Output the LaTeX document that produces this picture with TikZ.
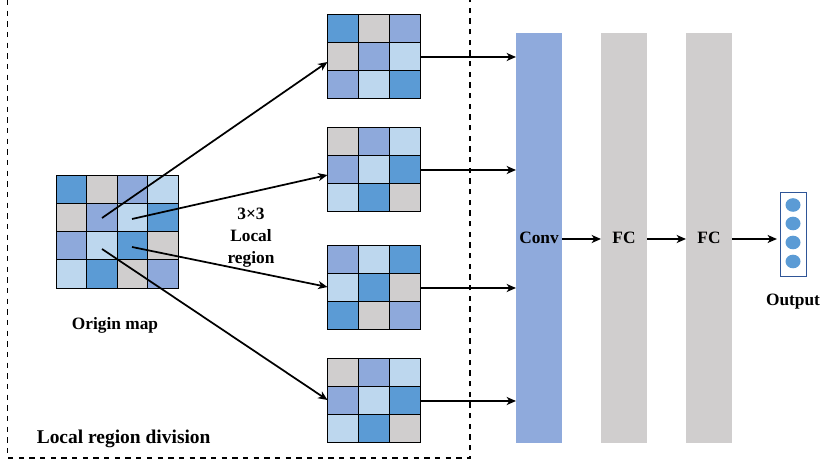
\documentclass[tikz,border=0pt]{standalone}
\usepackage{fontspec}
\setmainfont{Liberation Serif}
\usetikzlibrary{arrows.meta}
\definecolor{cdark}{HTML}{5B9BD5}
\definecolor{cmed}{HTML}{8EA9DB}
\definecolor{clight}{HTML}{BDD7EE}
\definecolor{cgray}{HTML}{D0CECE}
\definecolor{cconv}{HTML}{8FAADC}
\definecolor{cbox}{HTML}{2F5597}
% name, x, y, cell w, cell h, cols, rows, list of rows
\newcommand\mycellgrid[8]{%
  \foreach \myrow [count=\ri from 0] in {#8} {
    \foreach \cc [count=\ci from 0] in \myrow {
      \fill[\cc] ({#2+\ci*#4},{#3+\ri*#5}) rectangle ++(#4,#5);
    }
  }
  \foreach \ri in {1,...,#7} {
    \foreach \ci in {1,...,#6} {
      \draw[gridline] ({#2+(\ci-1)*#4},{#3+(\ri-1)*#5}) rectangle ++(#4,#5);
    }
  }
  \node[inner sep=0pt, outer sep=0pt, minimum width={#6*#4*0.75pt}, minimum height={#7*#5*0.75pt}, anchor=north west] (#1) at (#2,#3) {};
}
\begin{document}
\begin{tikzpicture}[x=0.75pt,y=-0.75pt,
  gridline/.style={draw=black, line width=0.7pt},
  arr/.style={-{Stealth[length=7pt,width=6pt,inset=2pt]}, line width=1.3pt, black},
  lbl/.style={font=\bfseries\fontsize{13}{15}\selectfont, inner sep=0pt},
  bar/.style={inner sep=0pt, outer sep=0pt, minimum width=34.5pt, minimum height=307.5pt, font=\bfseries\fontsize{13}{15}\selectfont},
  dashbox/.style={draw=black, line width=0.9pt, dash pattern=on 4pt off 4pt}
]
\useasboundingbox (0,0) rectangle (822,466);

% dashed region
\draw[dashbox] (7.5,0) -- (7.5,458) -- (470,458) -- (470,0);

% origin map
\mycellgrid{om}{56}{175}{30.5}{28.25}{4}{4}{{cdark,cgray,cmed,clight},{cgray,cmed,clight,cdark},{cmed,clight,cdark,cgray},{clight,cdark,cgray,cmed}}

% local regions
\mycellgrid{g1}{327.5}{14}{31}{28.3}{3}{3}{{cdark,cgray,cmed},{cgray,cmed,clight},{cmed,clight,cdark}}
\mycellgrid{g2}{327.5}{127}{31}{28.3}{3}{3}{{cgray,cmed,clight},{cmed,clight,cdark},{clight,cdark,cgray}}
\mycellgrid{g3}{327.5}{245}{31}{28.3}{3}{3}{{cmed,clight,cdark},{clight,cdark,cgray},{cdark,cgray,cmed}}
\mycellgrid{g4}{327.5}{358}{31}{28.3}{3}{3}{{cgray,cmed,clight},{cmed,clight,cdark},{clight,cdark,cgray}}

% arrow anchor points inside origin map
\coordinate (s1) at (102,218);
\coordinate (s2) at (132,219);
\coordinate (s3) at (132,247);
\coordinate (s4) at (102,249);
\coordinate (e1) at (327.5,62);
\coordinate (e2) at (327.5,175);
\coordinate (e3) at (327.5,287);
\coordinate (e4) at (327.5,400);
\draw[arr] (s1) -- (e1);
\draw[arr] (s2) -- (e2);
\draw[arr] (s3) -- (e3);
\draw[arr] (s4) -- (e4);

% labels
\node[lbl] (omlbl) at (115,325) {Origin map};
\node[lbl, align=center] (rlbl) at (251,238) {3×3\\[1.5pt]Local\\[1.5pt]region};
\node[lbl, font=\bfseries\fontsize{14.6}{16}\selectfont, anchor=west] (divlbl) at (36.5,439) {Local region division};

% bars
\node[bar, fill=cconv] (conv) at (539,238) {Conv};
\node[bar, fill=cgray] (fc1) at (624,238) {FC};
\node[bar, fill=cgray] (fc2) at (709,238) {FC};

% grid -> conv
\draw[arr] (g1.east |- 0,57) -- (conv.west |- 0,57);
\draw[arr] (g2.east |- 0,170) -- (conv.west |- 0,170);
\draw[arr] (g3.east |- 0,288) -- (conv.west |- 0,288);
\draw[arr] (g4.east |- 0,401) -- (conv.west |- 0,401);

% conv -> fc -> fc
\draw[arr] (conv.east |- 0,239) -- (fc1.west |- 0,239);
\draw[arr] (fc1.east |- 0,239) -- (fc2.west |- 0,239);

% output
\node[draw=cbox, line width=0.6pt, inner sep=0pt, minimum width=19.5pt, minimum height=63.5pt] (out) at (793,234.5) {};
\foreach \yy/\nm in {205/o1,223.5/o2,242.5/o3,261.5/o4} {
  \fill[cdark] (793,\yy) ellipse [x radius=7.5, y radius=6.8];
  \coordinate (\nm) at (793,\yy);
}
\draw[arr] (fc2.east |- 0,239) -- ([xshift=-2pt]out.west |- 0,239);
\node[lbl] (outlbl) at (793,302) {Output};
\end{tikzpicture}
\end{document}
